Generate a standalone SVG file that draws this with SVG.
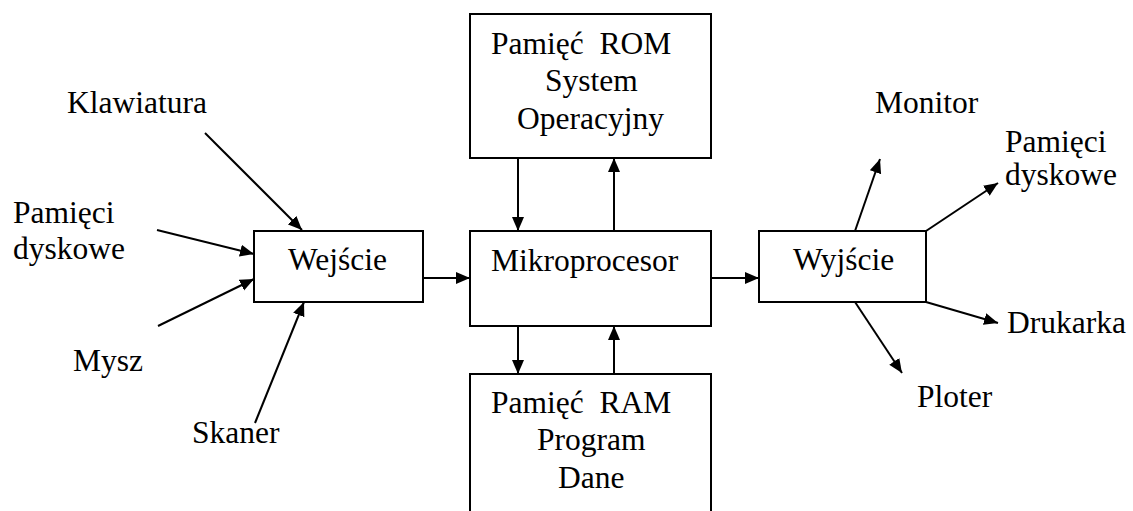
<svg xmlns="http://www.w3.org/2000/svg" width="1133" height="511" viewBox="0 0 1133 511">
  <style>
    .box { fill: #fff; stroke: #000; stroke-width: 2; }
    text { font-size: 31.5px; fill: #000; white-space: pre; }
    .wire { stroke: #000; stroke-width: 2; fill: none; marker-end: url(#arrow); }
  </style>
  <defs>
    <marker id="arrow" markerUnits="userSpaceOnUse" markerWidth="15" markerHeight="13" refX="14" refY="6" orient="auto">
      <path d="M0,0 L14,6 L0,12 z" fill="#000"/>
    </marker>
  </defs>
  <rect width="1133" height="511" fill="#fff"/>

  <!-- connectors -->
  <g id="connectors">
    <!-- inputs -->
    <line class="wire" x1="205" y1="133" x2="302" y2="230"/>
    <line class="wire" x1="157" y1="230" x2="254" y2="254"/>
    <line class="wire" x1="158" y1="326" x2="254" y2="279"/>
    <line class="wire" x1="255" y1="423" x2="304" y2="302"/>
    <!-- Wejście to CPU -->
    <line class="wire" x1="423" y1="278" x2="470" y2="278"/>
    <!-- ROM / CPU -->
    <line class="wire" x1="518" y1="158" x2="518" y2="231"/>
    <line class="wire" x1="614" y1="231" x2="614" y2="158"/>
    <!-- CPU / RAM -->
    <line class="wire" x1="518" y1="326" x2="518" y2="374"/>
    <line class="wire" x1="614" y1="374" x2="614" y2="326"/>
    <!-- CPU to Wyjście -->
    <line class="wire" x1="711" y1="278" x2="759" y2="278"/>
    <!-- outputs -->
    <line class="wire" x1="855" y1="231" x2="880" y2="159"/>
    <line class="wire" x1="926" y1="231" x2="998" y2="183"/>
    <line class="wire" x1="926" y1="302" x2="998" y2="323"/>
    <line class="wire" x1="855" y1="302" x2="902" y2="373"/>
  </g>

  <!-- nodes -->
  <g font-family="Liberation Serif, DejaVu Serif, serif">
  <g id="rom">
    <rect class="box" x="470" y="14" width="241" height="144"/>
    <text x="491" y="54">Pamięć  ROM</text>
    <text x="545" y="91">System</text>
    <text x="517" y="129">Operacyjny</text>
  </g>

  <g id="cpu">
    <rect class="box" x="470" y="231" width="241" height="95"/>
    <text x="491" y="271">Mikroprocesor</text>
  </g>

  <g id="ram">
    <rect class="box" x="470" y="374" width="241" height="150"/>
    <text x="491" y="413">Pamięć  RAM</text>
    <text x="537" y="450">Program</text>
    <text x="558" y="488">Dane</text>
  </g>

  <g id="wejscie">
    <rect class="box" x="254" y="231" width="169" height="71"/>
    <text x="288" y="270">Wejście</text>
  </g>

  <g id="wyjscie">
    <rect class="box" x="759" y="231" width="167" height="71"/>
    <text x="793" y="270">Wyjście</text>
  </g>

  <g id="klawiatura">
    <text x="67" y="113">Klawiatura</text>
  </g>
  <g id="pamieci-we">
    <text x="13" y="223">Pamięci</text>
    <text x="13" y="259">dyskowe</text>
  </g>
  <g id="mysz">
    <text x="73" y="371">Mysz</text>
  </g>
  <g id="skaner">
    <text x="192" y="443">Skaner</text>
  </g>

  <g id="monitor">
    <text x="875" y="113">Monitor</text>
  </g>
  <g id="pamieci-wy">
    <text x="1005" y="152">Pamięci</text>
    <text x="1005" y="185">dyskowe</text>
  </g>
  <g id="drukarka">
    <text x="1007" y="333">Drukarka</text>
  </g>
  <g id="ploter">
    <text x="917" y="407">Ploter</text>
  </g>
  </g>
</svg>
